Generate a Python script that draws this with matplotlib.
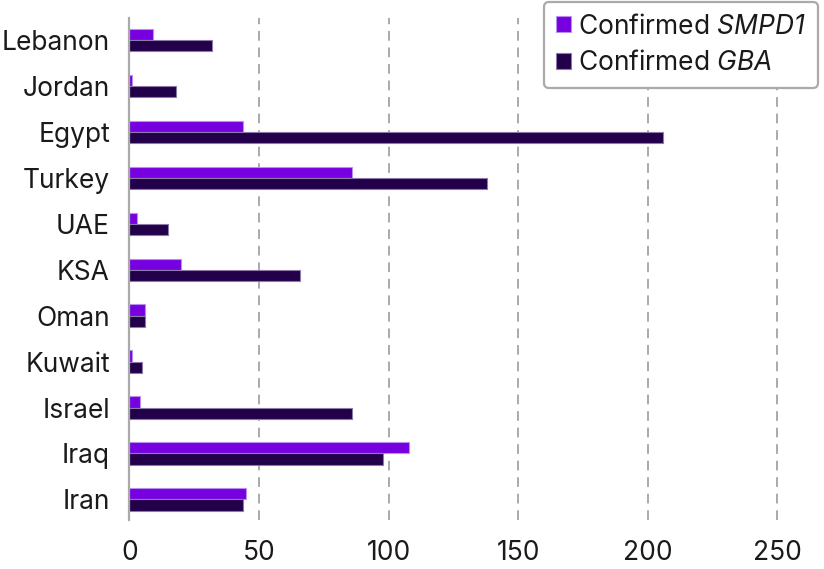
import numpy as np
import matplotlib.pyplot as plt

plt.rcParams['font.family'] = ['Inter', 'DejaVu Sans']
plt.rcParams['mathtext.fontset'] = 'custom'
plt.rcParams['mathtext.it'] = 'Inter:italic'
plt.rcParams['mathtext.rm'] = 'Inter:italic'

countries = ["Lebanon", "Jordan", "Egypt", "Turkey", "UAE", "KSA",
             "Oman", "Kuwait", "Israel", "Iraq", "Iran"]
smpd1 = [9, 1, 44, 86, 3, 20, 6, 1, 4, 108, 45]
gba = [32, 18, 206, 138, 15, 66, 6, 5, 86, 98, 44]

c_smpd1 = "#7700E0"
c_gba = "#22004A"

fig = plt.figure(figsize=(8.24, 5.69), dpi=100)
ax = fig.add_axes([0.157, 0.086, 0.84, 0.882])

y = np.arange(len(countries))[::-1]
h = 0.245
ax.barh(y + h / 2, smpd1, height=h, color=c_smpd1, edgecolor="#b88ff0",
        linewidth=0.8, label="Confirmed $\\mathit{SMPD1}$", zorder=3)
ax.barh(y - h / 2, gba, height=h, color=c_gba, edgecolor="#8c7aa8",
        linewidth=0.8, label="Confirmed $\\mathit{GBA}$", zorder=3)

ax.set_yticks(y)
ax.set_yticklabels(countries, fontsize=19, color="#1a1a1a")
ax.set_xticks([0, 50, 100, 150, 200, 250])
ax.tick_params(axis="x", labelsize=19, length=0, pad=14, colors="#1a1a1a")
ax.tick_params(axis="y", length=0, pad=14)
ax.set_xlim(0, 267)
ax.set_ylim(-0.45, 10.48)

for s in ["top", "right", "bottom"]:
    ax.spines[s].set_visible(False)
ax.spines["left"].set_color("#aaaaaa")
ax.spines["left"].set_linewidth(1.6)
ax.spines["left"].set_zorder(4)

ax.xaxis.grid(True, color="#aaaaaa", linestyle=(0, (5, 3.5)), linewidth=1.4, zorder=0)
ax.set_axisbelow(True)

leg = ax.legend(loc="upper right", bbox_to_anchor=(0.993, 0.997),
                bbox_transform=fig.transFigure, fontsize=19, frameon=True,
                fancybox=True, edgecolor="#aaaaaa", handlelength=0.55,
                handleheight=0.55, handletextpad=0.3, borderpad=0.45,
                labelspacing=0.4, framealpha=1, borderaxespad=0)
leg.get_frame().set_linewidth(1.6)
for t in leg.get_texts():
    t.set_color("#1a1a1a")

fig.savefig("out.png", dpi=100)
